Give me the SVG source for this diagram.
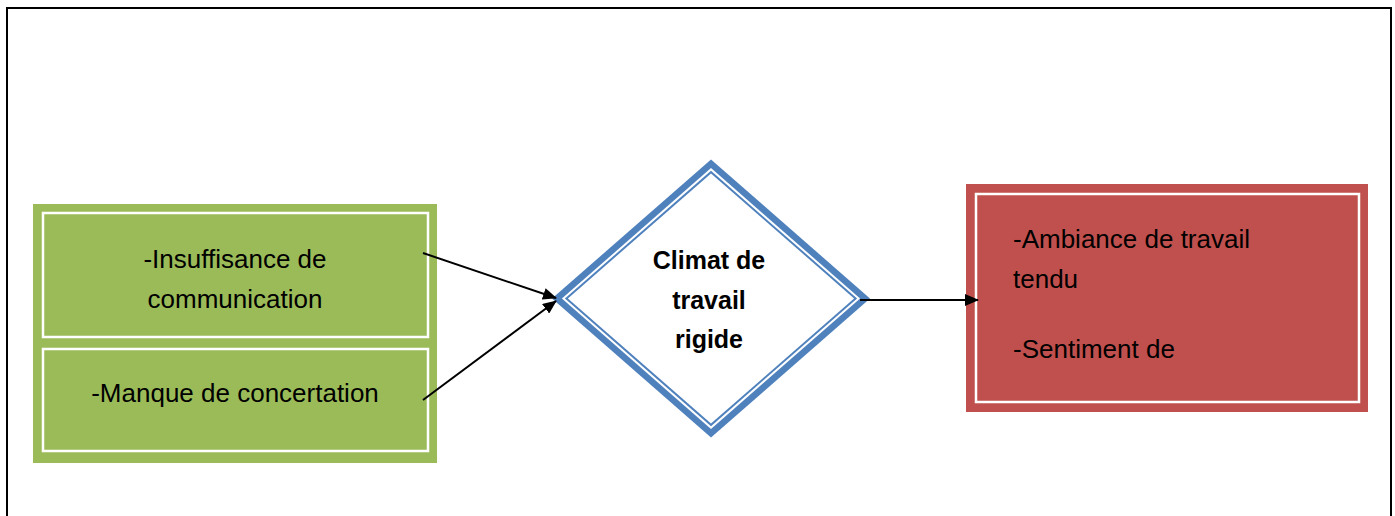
<svg xmlns="http://www.w3.org/2000/svg" width="1395" height="516" viewBox="0 0 1395 516">
  <style>
    .txt { font-family: "Liberation Sans", Arial, sans-serif; font-size: 26px; fill: #000; }
    .bold { font-weight: bold; font-size: 25px; }
    .green { fill: #9BBB59; }
    .red { fill: #C0504D; }
    .inner { fill: none; stroke: #FFFFFF; stroke-width: 2.5; }
    .blue { fill: #4F81BD; }
    .white { fill: #FFFFFF; }
    .link { stroke: #000; stroke-width: 2; fill: none; marker-end: url(#arrow); }
  </style>
  <defs>
    <marker id="arrow" viewBox="0 0 14 12" refX="13" refY="6" markerWidth="14" markerHeight="12" markerUnits="userSpaceOnUse" orient="auto">
      <path d="M0,0 L14,6 L0,12 Z" fill="#000"/>
    </marker>
  </defs>

  <rect width="1395" height="516" fill="#FFFFFF"/>
  <!-- page frame, open at the bottom -->
  <path d="M7,516 V8 H1391 V516" fill="none" stroke="#000" stroke-width="2"/>

  <g id="node-insuffisance">
    <rect class="green" x="33" y="204" width="404" height="142"/>
    <rect class="inner" x="43" y="213" width="385" height="124"/>
    <text class="txt" x="235" y="268" text-anchor="middle">-Insuffisance de</text>
    <text class="txt" x="235" y="308" text-anchor="middle">communication</text>
  </g>

  <g id="node-manque">
    <rect class="green" x="33" y="340" width="404" height="123"/>
    <rect class="inner" x="43" y="349" width="385" height="102"/>
    <text class="txt" x="235" y="402" text-anchor="middle">-Manque de concertation</text>
  </g>

  <g id="node-climat">
    <!-- thick-thin double border built from nested diamonds -->
    <polygon class="blue" points="711,159.5 870,298.5 711,437.5 552,298.5"/>
    <polygon class="white" points="711,168.1 860.1,298.5 711,428.9 561.9,298.5"/>
    <polygon class="blue" points="711,170.8 857.1,298.5 711,426.2 564.9,298.5"/>
    <polygon class="white" points="711,173.4 854.1,298.5 711,423.6 567.9,298.5"/>
    <text class="txt bold" x="709" y="269" text-anchor="middle">Climat de</text>
    <text class="txt bold" x="709" y="309" text-anchor="middle">travail</text>
    <text class="txt bold" x="709" y="348" text-anchor="middle">rigide</text>
  </g>

  <g id="node-consequences">
    <rect class="red" x="966" y="184" width="402" height="228"/>
    <rect class="inner" x="976" y="194" width="383" height="208"/>
    <text class="txt" x="1013" y="248">-Ambiance de travail</text>
    <text class="txt" x="1013" y="288">tendu</text>
    <text class="txt" x="1013" y="358">-Sentiment de</text>
  </g>

  <g id="connectors">
    <line class="link" x1="423" y1="253" x2="556" y2="298"/>
    <line class="link" x1="423" y1="400" x2="556" y2="301"/>
    <line class="link" x1="860" y1="300" x2="978" y2="300"/>
  </g>
</svg>
